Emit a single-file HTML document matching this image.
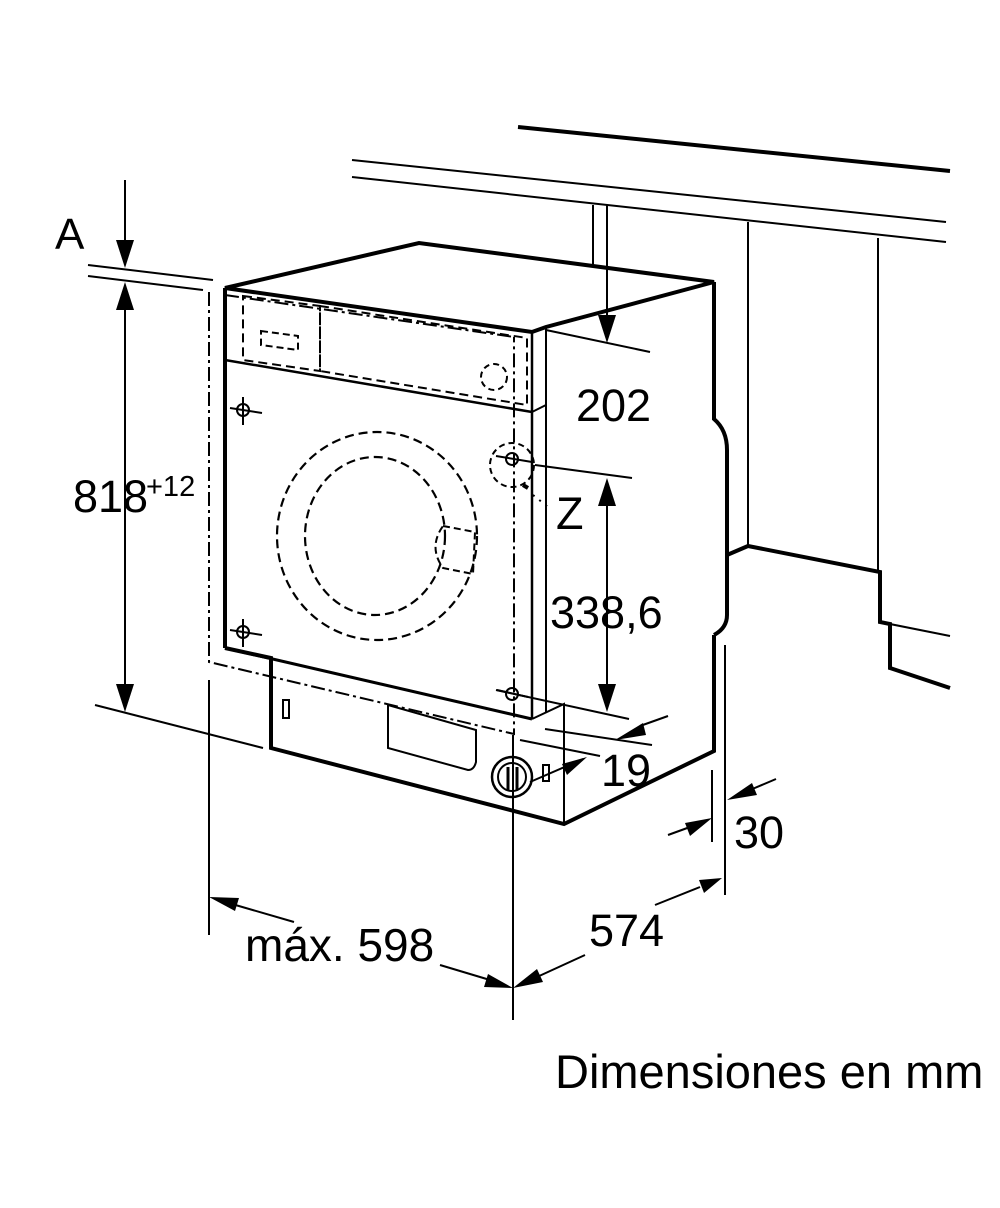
<!DOCTYPE html>
<html><head><meta charset="utf-8"><style>
html,body{margin:0;padding:0;background:#fff}
svg{display:block}
text{font-family:"Liberation Sans",sans-serif;fill:#000}
</style></head><body>
<svg width="1000" height="1208" viewBox="0 0 1000 1208" xmlns="http://www.w3.org/2000/svg">
<g stroke="#000" fill="none" stroke-linecap="butt">
<line x1="518" y1="127" x2="950" y2="171" stroke-width="4"/>
<line x1="352" y1="160" x2="946" y2="222" stroke-width="2"/>
<line x1="352" y1="177" x2="946" y2="242" stroke-width="2"/>
<line x1="593" y1="205" x2="593" y2="266" stroke-width="2"/>
<line x1="748" y1="222" x2="748" y2="546" stroke-width="2"/>
<line x1="878" y1="238" x2="878" y2="572" stroke-width="2"/>
<polyline points="727,555 748,546 880,572 880,622 890,624 890,668 950,688" stroke-width="4"/>
<line x1="880" y1="622" x2="950" y2="636" stroke-width="2"/>

<polygon points="225,288 419,243 714,282 546,327 532,332" stroke-width="4" stroke-linejoin="miter"/>
<line x1="225" y1="288" x2="225" y2="648" stroke-width="4"/>
<line x1="225" y1="288" x2="532" y2="332" stroke-width="2"/>
<line x1="225" y1="360" x2="532" y2="412" stroke-width="2.5"/>
<line x1="532" y1="412" x2="546" y2="405" stroke-width="2"/>
<line x1="532" y1="332" x2="532" y2="719" stroke-width="2.5"/>
<line x1="546" y1="327" x2="546" y2="713" stroke-width="2"/>
<line x1="225" y1="648" x2="532" y2="719" stroke-width="3"/>
<polyline points="532,719 564,704 564,824" stroke-width="2"/>
<polyline points="225,648 271,658 271,748 564,824 714,751 714,635" stroke-width="4"/>
<path d="M714,282 L714,419 Q727,430 727,450 L727,615 Q727,628 714,635" stroke-width="4"/>
<polygon points="243,296 320,306 320,371 243,360" stroke-width="2" stroke-dasharray="9,5"/>
<polygon points="320,306 527,338 527,405 320,371" stroke-width="2" stroke-dasharray="9,5"/>
<polygon points="261,331 298,336 298,350 261,345" stroke-width="2" stroke-dasharray="7,4"/>
<circle cx="494" cy="377" r="13" stroke-width="2" stroke-dasharray="6,4"/>
<ellipse cx="377" cy="536" rx="100" ry="104" stroke-width="2.2" stroke-dasharray="9,5"/>
<ellipse cx="375" cy="536" rx="70" ry="79" stroke-width="2.2" stroke-dasharray="9,5"/>
<path d="M443,526 L475,532 L473,574 L443,568 Q428,547 443,526" stroke-width="2" stroke-dasharray="7,4"/>
<g stroke-width="2">
<circle cx="243" cy="410" r="6"/><line x1="243" y1="397" x2="243" y2="425"/><line x1="230" y1="408" x2="262" y2="413"/>
<circle cx="243" cy="632" r="6"/><line x1="243" y1="619" x2="243" y2="647"/><line x1="230" y1="630" x2="262" y2="635"/>
<circle cx="512" cy="459" r="6"/><line x1="496" y1="456" x2="532" y2="462"/>
<circle cx="512" cy="694" r="6"/><line x1="497" y1="690" x2="528" y2="697"/>
</g>
<circle cx="512" cy="465" r="22" stroke-width="2" stroke-dasharray="6,4"/>
<path d="M523,485 L528,488" stroke-width="4"/>
<path d="M533,495 L548,507" stroke-width="2" stroke-dasharray="2,6"/>
<polyline points="209,292 209,662 514,734 514,337" stroke-width="2" stroke-dasharray="14,4,3,4"/>
<polyline points="225,295 514,337" stroke-width="2" stroke-dasharray="14,4,3,4"/>
<rect x="283" y="700" width="6" height="18" stroke-width="2"/>
<path d="M388,705 L476,730 L476,762 Q474,770 468,770 L388,748 Z" stroke-width="2"/>
<circle cx="512" cy="777" r="20" stroke-width="2.5"/>
<circle cx="512" cy="777" r="14" stroke-width="2"/>
<line x1="508" y1="767" x2="508" y2="790" stroke-width="3"/>
<line x1="517" y1="767" x2="517" y2="790" stroke-width="3"/>
<rect x="543" y="765" width="6" height="16" stroke-width="2"/>
<line x1="530" y1="782" x2="583" y2="759" stroke-width="2"/>

<g stroke-width="2">
<line x1="125" y1="180" x2="125" y2="245"/>
<line x1="88" y1="265" x2="213" y2="280"/>
<line x1="88" y1="276" x2="203" y2="290"/>
<line x1="125" y1="305" x2="125" y2="690"/>
<line x1="95" y1="705" x2="263" y2="748"/>
<line x1="607" y1="205" x2="607" y2="320"/>
<line x1="546" y1="330" x2="650" y2="352"/>
<line x1="535" y1="465" x2="632" y2="478"/>
<line x1="607" y1="500" x2="607" y2="690"/>
<line x1="496" y1="690" x2="629" y2="719"/>
<line x1="545" y1="729" x2="652" y2="745"/>
<line x1="520" y1="740" x2="600" y2="756"/>
<line x1="640" y1="726" x2="668" y2="716"/>
<line x1="712" y1="770" x2="712" y2="842"/>
<line x1="725" y1="645" x2="725" y2="895"/>
<line x1="668" y1="835" x2="690" y2="827"/>
<line x1="750" y1="790" x2="776" y2="779"/>
<line x1="209" y1="680" x2="209" y2="935"/>
<line x1="513" y1="735" x2="513" y2="1020"/>
<line x1="232" y1="904" x2="294" y2="922"/>
<line x1="440" y1="965" x2="490" y2="980"/>
<line x1="537" y1="977" x2="585" y2="955"/>
<line x1="655" y1="905" x2="700" y2="887"/>
</g>
<g fill="#000" stroke="none">
<polygon points="125,268 116,240 134,240"/>
<polygon points="125,282 116,310 134,310"/>
<polygon points="125,712 116,684 134,684"/>
<polygon points="607,343 598,315 616,315"/>
<polygon points="607,478 598,506 616,506"/>
<polygon points="607,712 598,684 616,684"/>
<polygon points="615,740 643,723 646,735"/>
<polygon points="587,757 562,764 567,775"/>
<polygon points="712,818 685,823 690,836"/>
<polygon points="727,800 752,783 757,795"/>
<polygon points="209,897 239,898 235,911"/>
<polygon points="513,988 484,987 488,974"/>
<polygon points="513,988 537,969 543,982"/>
<polygon points="722,878 699,880 704,893"/>
</g>
</g>
<text x="55" y="249" font-size="44">A</text>
<text x="73" y="512" font-size="45">818</text>
<text x="146" y="496" font-size="29">+12</text>
<text x="576" y="421" font-size="45">202</text>
<text x="556" y="529" font-size="45">Z</text>
<text x="550" y="628" font-size="45">338,6</text>
<text x="601" y="786" font-size="45">19</text>
<text x="734" y="848" font-size="45">30</text>
<text x="245" y="961" font-size="46">máx. 598</text>
<text x="589" y="946" font-size="45">574</text>
<text x="555" y="1088" font-size="47">Dimensiones en mm</text>
</svg>
</body></html>
